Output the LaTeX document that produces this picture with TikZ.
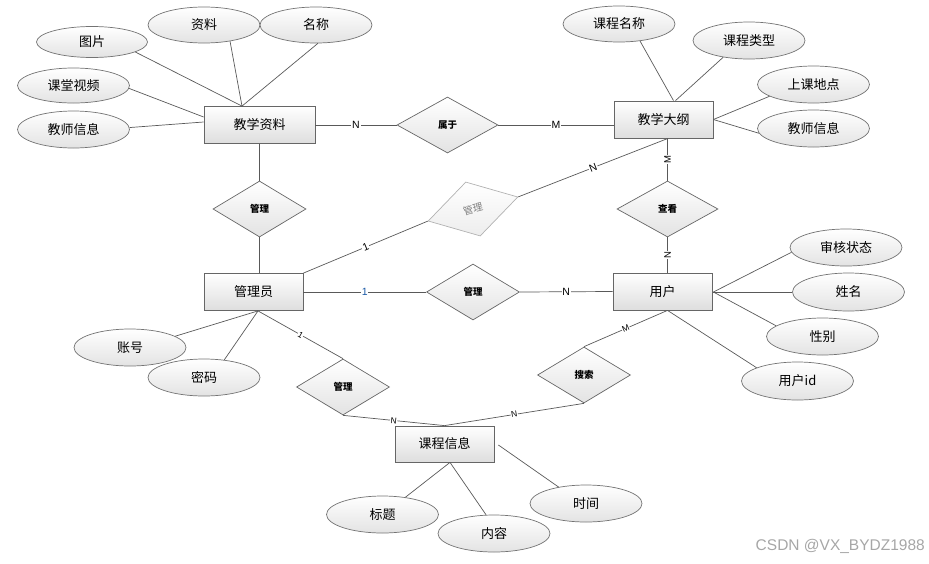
\documentclass[tikz,border=0pt]{standalone}
\usepackage{fontspec}
\setmainfont{Noto Sans CJK SC}
\newfontfamily\lat{Liberation Sans}
\usetikzlibrary{shapes.geometric,calc}
\begin{document}
\begin{tikzpicture}[x=1pt,y=-1pt,
 ent/.style={draw=black!60, line width=0.8pt, top color=white, bottom color=black!13, minimum width=99pt, minimum height=37pt, inner sep=0pt, font=\fontsize{13}{13}\selectfont},
 attr/.style={ellipse, draw=black!55, line width=0.7pt, top color=white, bottom color=black!11, minimum width=112pt, minimum height=37pt, inner sep=0pt, font=\fontsize{13}{13}\selectfont},
 rel/.style={diamond, draw=black!60, line width=0.7pt, top color=white, bottom color=black!11, minimum width=93pt, minimum height=56pt, inner sep=0pt, font=\bfseries\fontsize{9.5}{9.5}\selectfont},
 ghost/.style={draw=black!30, text=black!50, top color=white, bottom color=black!7, font=\fontsize{10}{10}\selectfont},
 ln/.style={draw=black!65, line width=0.7pt},
 lab/.style={fill=white, inner sep=0.8pt, font=\lat\fontsize{10.5}{10.5}\selectfont},
 slab/.style={fill=white, inner sep=0.5pt, font=\lat\fontsize{8.5}{8.5}\selectfont},
]
\useasboundingbox (0,0) rectangle (929,563);

% entities
\node[ent, minimum width=111pt] (jxzl) at (259.5,125) {教学资料};
\node[ent] (jxdg) at (663.5,119.5) {教学大纲};
\node[ent] (gly) at (253.5,292) {管理员};
\node[ent] (yh) at (662.5,291.5) {用户};
\node[ent, minimum height=36pt] (kcxx) at (444.5,444) {课程信息};

% relationships
\node[rel, minimum width=101pt] (sy) at (447.5,125) {属于};
\node[rel] (gla) at (259.5,209) {管理};
\node[rel, ghost, rotate=15] (glb) at (473,209) {管理};
\node[rel] (glc) at (473,292) {管理};
\node[rel, minimum width=101pt] (ck) at (667.5,209) {查看};
\node[rel] (gld) at (343,387) {管理};
\node[rel] (ss) at (584,375) {搜索};

% attributes
\node[attr, minimum width=111pt, minimum height=31pt] (tp) at (92,42) {图片};
\node[attr, minimum height=36pt] (zl) at (204,25) {资料};
\node[attr, minimum height=36pt] (mc) at (316,25) {名称};
\node[attr, minimum height=35pt] (ktsp) at (73.5,85.5) {课堂视频};
\node[attr] (jsxxa) at (73.5,129.5) {教师信息};
\node[attr, minimum height=36pt] (kcmc) at (619,24) {课程名称};
\node[attr] (kclx) at (749,40.5) {课程类型};
\node[attr] (skdd) at (813.5,84.5) {上课地点};
\node[attr] (jsxxb) at (813.5,128.5) {教师信息};
\node[attr] (shzt) at (846,247.5) {审核状态};
\node[attr, minimum height=38pt] (xm) at (848.5,292) {姓名};
\node[attr] (xb) at (822.5,336.5) {性别};
\node[attr, minimum height=38pt] (yhid) at (797.5,381) {用户id};
\node[attr] (zh) at (130,347.5) {账号};
\node[attr] (mm) at (204,377.5) {密码};
\node[attr] (bt) at (382.5,514.5) {标题};
\node[attr] (nr) at (494,533.5) {内容};
\node[attr] (sj) at (586,503.5) {时间};

% contact points
\coordinate (jzt) at ($(jxzl.north)+(-17.5,0)$);
\coordinate (jdb) at ($(jxdg.south)+(4.5,0)$);
\coordinate (yhb) at ($(yh.south)+(5,0)$);
\coordinate (glyb) at ($(gly.south)+(4.5,0)$);
\coordinate (kcb) at ($(kcxx.south)+(5.5,0)$);

% attribute lines
\draw[ln] (tp.-13) -- (jzt);
\draw[ln] (zl.-32) -- (jzt);
\draw[ln] (mc.-84) -- (jzt);
\draw[ln] (ktsp.-3.5) -- ($(jxzl.west)+(0,-8)$);
\draw[ln] (jsxxa.2.4) -- ($(jxzl.west)+(0,-3)$);
\draw[ln] (kcmc.-39) -- ($(jxdg.north)+(10,0)$);
\draw[ln] (kclx.-147.6) -- ($(jxdg.north)+(12,0)$);
\draw[ln] (skdd.-165) -- (jxdg.east);
\draw[ln] (jsxxb.-175) -- (jxdg.east);
\draw[ln] (shzt.-175) -- ($(yh.east)+(1,0.5)$);
\draw[ln] (xm.180) -- ($(yh.east)+(1,0.5)$);
\draw[ln] (xb.167) -- ($(yh.east)+(1,0.5)$);
\draw[ln] (yhid.162) -- (yhb);
\draw[ln] (zh.14) -- (glyb);
\draw[ln] (mm.41) -- (glyb);
\draw[ln] (bt.37) -- (kcb);
\draw[ln] (nr.113) -- (kcb);
\draw[ln] (sj.149) -- ($(kcxx.east)+(4,1)$);

% relationship lines
\draw[ln] (jxzl.east) -- node[lab] {N} (sy.west);
\draw[ln] (sy.east) -- node[lab] {M} (jxdg.west |- sy.east);
\draw[ln] (jxzl.south -| gla.north) -- (gla.north);
\draw[ln] (gla.south) -- (gla.south |- gly.north);
\draw[ln] (gly.north east) -- node[lab, sloped] {1} (glb.west);
\draw[ln] (glb.east) -- node[lab, sloped] {N} (jdb);
\draw[ln] (ck.north) -- node[lab, sloped, font=\lat\fontsize{9.5}{9.5}\selectfont] {M} (ck.north |- jdb);
\draw[ln] (ck.south |- yh.north) -- node[lab, sloped, font=\lat\fontsize{9.5}{9.5}\selectfont] {N} (ck.south);
\draw[ln] (gly.east) -- node[lab, text={rgb,1:red,0.1;green,0.35;blue,0.65}] {1} (glc.west);
\draw[ln] (glc.east) -- node[lab] {N} (yh.west);
\draw[ln] (ss.north) -- node[slab, sloped] {M} (yhb);
\draw[ln] (glyb) -- node[slab, sloped] {1} (gld.north);
\draw[ln] (gld.south) -- node[slab, sloped] {N} (kcxx.north);
\draw[ln] (ss.south) -- node[slab, sloped] {N} (kcxx.north);

% watermark
\node[anchor=east, text=black!35, font=\lat\fontsize{15.5}{15.5}\selectfont, inner sep=0pt] (wm) at (925,546) {CSDN @VX\_BYDZ1988};
\end{tikzpicture}
\end{document}
